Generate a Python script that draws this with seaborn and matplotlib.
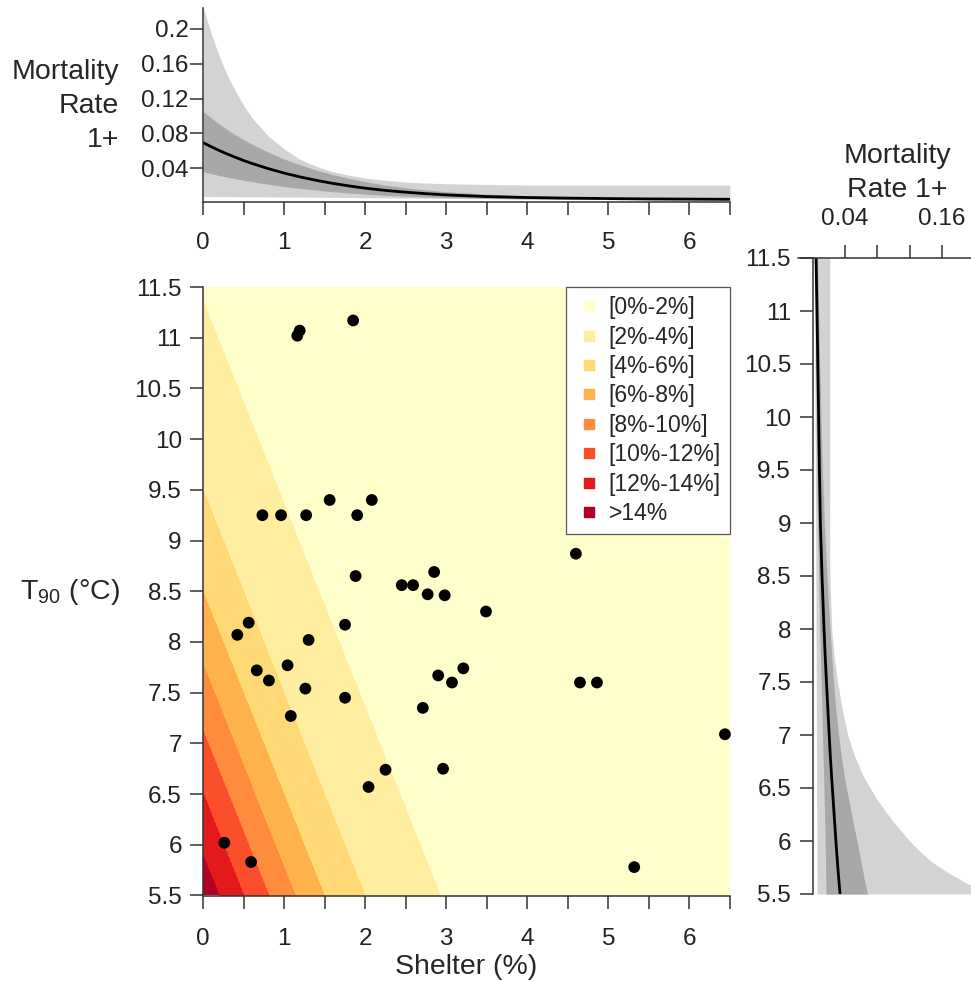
import numpy as np
import pandas as pd
import seaborn as sns
import matplotlib.pyplot as plt
from matplotlib.lines import Line2D

# predicted 1+ mortality (%) on a coarse shelter x T90 grid
grid_shelter = [0.0, 0.5, 1.0, 1.5, 2.0, 2.5, 3.0, 3.5, 4.0, 5.0, 6.5]
grid_t90 = [5.5, 6.5, 7.5, 8.5, 9.5, 10.5, 11.5]
grid_mort = [
    [15.3, 12.0, 8.75, 5.96, 3.98, 2.88, 1.85, 1.30, 0.95, 0.50, 0.17],
    [12.0, 8.75, 5.96, 3.98, 2.88, 1.85, 1.30, 0.95, 0.70, 0.36, 0.12],
    [8.75, 5.96, 3.98, 2.88, 1.85, 1.30, 0.95, 0.70, 0.50, 0.25, 0.09],
    [5.96, 3.98, 2.88, 1.85, 1.30, 0.95, 0.70, 0.50, 0.36, 0.17, 0.065],
    [3.98, 2.88, 1.85, 1.30, 0.95, 0.70, 0.50, 0.36, 0.25, 0.12, 0.045],
    [2.88, 1.85, 1.30, 0.95, 0.70, 0.50, 0.36, 0.25, 0.17, 0.09, 0.032],
    [1.85, 1.30, 0.95, 0.70, 0.50, 0.36, 0.25, 0.17, 0.12, 0.065, 0.022],
]
levels = [0, 2, 4, 6, 8, 10, 12, 14, 100]
level_labels = ["[0%-2%]", "[2%-4%]", "[4%-6%]", "[6%-8%]", "[8%-10%]",
                "[10%-12%]", "[12%-14%]", ">14%"]
level_colors = ["#FFFFCC", "#FFEDA0", "#FED976", "#FEB24C", "#FD8D3C",
                "#FC4E2A", "#E31A1C", "#B10026"]

# observed sites
site_shelter = [1.19, 1.16, 1.85, 1.56, 2.08, 0.73, 0.96, 1.27, 1.90, 1.88,
                2.85, 2.45, 2.59, 2.77, 2.98, 3.49, 0.56, 0.42, 1.75, 1.30,
                0.66, 1.04, 0.81, 1.26, 1.75, 1.08, 2.90, 3.21, 3.07, 2.71,
                2.25, 2.96, 2.04, 4.60, 4.65, 4.86, 6.44, 5.32, 0.26, 0.59]
site_t90 = [11.07, 11.02, 11.17, 9.40, 9.40, 9.25, 9.25, 9.25, 9.25, 8.65,
            8.69, 8.56, 8.56, 8.47, 8.46, 8.30, 8.19, 8.07, 8.17, 8.02,
            7.72, 7.77, 7.62, 7.54, 7.45, 7.27, 7.67, 7.74, 7.60, 7.35,
            6.74, 6.75, 6.57, 8.87, 7.60, 7.60, 7.09, 5.78, 6.02, 5.83]

# marginal effect of shelter (top panel)
top_shelter = [0, 0.1, 0.2, 0.3, 0.4, 0.5, 0.6, 0.8, 1.0, 1.2, 1.4, 1.6, 1.8,
               2.0, 2.25, 2.5, 2.75, 3.0, 3.5, 4.0, 4.5, 5.0, 5.5, 6.0, 6.5]
top_mean = [0.0693, 0.0646, 0.0602, 0.0562, 0.0524, 0.0488, 0.0455, 0.0396,
            0.0344, 0.0299, 0.0260, 0.0226, 0.0197, 0.0171, 0.0145, 0.0125,
            0.0108, 0.0094, 0.0075, 0.0064, 0.0057, 0.0052, 0.0048, 0.0046, 0.0044]
top_hi95 = [0.224, 0.194, 0.168, 0.146, 0.128, 0.112, 0.098, 0.077, 0.062,
            0.050, 0.042, 0.036, 0.032, 0.0288, 0.0261, 0.0242, 0.023, 0.0222,
            0.0213, 0.0208, 0.0206, 0.0205, 0.0205, 0.0205, 0.0205]
top_lo95 = [0.0075, 0.0075, 0.0074, 0.0074, 0.0073, 0.0073, 0.0072, 0.0071,
            0.0070, 0.0069, 0.0067, 0.0066, 0.0064, 0.0062, 0.0060, 0.0058,
            0.0056, 0.0054, 0.0050, 0.0047, 0.0044, 0.0041, 0.0038, 0.0036, 0.0034]
top_hi50 = [0.105, 0.0975, 0.0905, 0.0842, 0.0782, 0.0727, 0.0676, 0.0585,
            0.0505, 0.0437, 0.0378, 0.0327, 0.0284, 0.0246, 0.0206, 0.0176,
            0.0151, 0.0131, 0.0103, 0.0085, 0.0073, 0.0065, 0.0060, 0.0057, 0.0054]
top_lo50 = [0.036, 0.0337, 0.0316, 0.0297, 0.0279, 0.0262, 0.0246, 0.0216,
            0.0190, 0.0168, 0.0148, 0.0131, 0.0116, 0.0103, 0.0089, 0.0079,
            0.0071, 0.0064, 0.0055, 0.0048, 0.0044, 0.0041, 0.0038, 0.0036, 0.0035]

# marginal effect of T90 (right panel)
side_t90 = [5.5, 5.6, 5.7, 5.8, 5.9, 6.0, 6.2, 6.4, 6.6, 6.8, 7.0, 7.25, 7.5,
            7.75, 8.0, 8.5, 9.0, 9.5, 10.0, 10.5, 11.0, 11.5]
side_mean = [0.0340, 0.0329, 0.0318, 0.0308, 0.0298, 0.0289, 0.0271, 0.0254,
             0.0236, 0.0220, 0.0206, 0.0189, 0.0172, 0.0156, 0.0142, 0.0117,
             0.0097, 0.0085, 0.0075, 0.0065, 0.0055, 0.0043]
side_hi95 = [0.218, 0.191, 0.168, 0.148, 0.133, 0.120, 0.098, 0.079, 0.0635,
             0.052, 0.0435, 0.0365, 0.031, 0.0265, 0.0237, 0.0214, 0.0212,
             0.0212, 0.0212, 0.0212, 0.0212, 0.0212]
side_lo95 = [0.0055, 0.0055, 0.0054, 0.0054, 0.0053, 0.0053, 0.0052, 0.0051,
             0.0050, 0.0049, 0.0048, 0.0047, 0.0046, 0.0045, 0.0044, 0.0041,
             0.0038, 0.0035, 0.0032, 0.0029, 0.0026, 0.0023]
side_hi50 = [0.068, 0.065, 0.0625, 0.060, 0.0575, 0.055, 0.0495, 0.0445,
             0.0395, 0.0355, 0.0322, 0.0287, 0.026, 0.0237, 0.0215, 0.0178,
             0.0146, 0.0122, 0.0104, 0.0089, 0.0075, 0.0062]
side_lo50 = [0.0166, 0.0164, 0.0162, 0.016, 0.0158, 0.0155, 0.015, 0.0144,
             0.0137, 0.013, 0.0123, 0.0115, 0.0106, 0.0097, 0.0089, 0.0074,
             0.0062, 0.0053, 0.0046, 0.004, 0.0034, 0.0029]

LIGHT = "#D3D3D3"
DARK = "#A8A8A8"
AXCOL = "#333333"
TICK_FS = 17.5
LAB_FS = 20.5

sns.set_theme(style="ticks")
plt.rcParams["font.family"] = ["Liberation Sans", "DejaVu Sans"]
plt.rcParams["mathtext.fontset"] = "custom"
plt.rcParams["mathtext.rm"] = "Liberation Sans"
plt.rcParams["axes.edgecolor"] = AXCOL
plt.rcParams["axes.linewidth"] = 1.1

W, H = 971, 981
fig = plt.figure(figsize=(W / 100, H / 100), dpi=100)


def px_axes(left, top, right, bottom):
    return fig.add_axes([left / W, 1 - bottom / H, (right - left) / W, (bottom - top) / H])


def style_ticks(ax):
    ax.tick_params(direction="out", length=9.5, width=1.1, color=AXCOL,
                   labelsize=TICK_FS, labelcolor="#222222")


x_ticks = np.arange(0, 6.51, 0.5)
x_labels = [f"{v:g}" if v == int(v) else "" for v in x_ticks]

# ---- main contour panel ----
ax = px_axes(203.3, 287, 729.8, 895.5)
ax.contourf(grid_shelter, grid_t90, grid_mort, levels=levels, colors=level_colors)
sns.scatterplot(x=site_shelter, y=site_t90, color="black", s=72, edgecolor="none",
                ax=ax, clip_on=False, zorder=5, legend=False)
ax.set_xlim(0, 6.5)
ax.set_ylim(5.5, 11.5)
sns.despine(ax=ax)
style_ticks(ax)
ax.set_xticks(x_ticks, x_labels)
y_ticks = np.arange(5.5, 11.51, 0.5)
ax.set_yticks(y_ticks, [f"{v:g}" for v in y_ticks])
ax.tick_params(axis="x", pad=14)
ax.tick_params(axis="y", pad=6)
ax.set_xlabel("Shelter (%)", fontsize=LAB_FS, labelpad=3)
ax.set_ylabel("")

handles = [Line2D([], [], marker="s", ls="", color=c, markersize=7) for c in level_colors]
leg = ax.legend(handles, level_labels, loc="upper right", bbox_to_anchor=(1, 1),
                borderaxespad=0, frameon=True, fancybox=False, framealpha=1,
                facecolor="white", edgecolor="#555555", fontsize=16.5,
                handlelength=1.2, handletextpad=0.25, labelspacing=0.28,
                borderpad=0.4)
leg.get_frame().set_linewidth(0.9)

fig.text(20 / W, 1 - 592 / H, r"T$_{\mathrm{90}}$ (°C)", fontsize=LAB_FS,
         ha="left", va="center")

# ---- top panel: shelter ----
ax_top = px_axes(203.3, 8.3, 729.8, 201.7)
ax_top.fill_between(top_shelter, top_lo95, top_hi95, color=LIGHT, lw=0)
ax_top.fill_between(top_shelter, top_lo50, top_hi50, color=DARK, lw=0)
top_df = pd.DataFrame({"shelter": top_shelter, "mean": top_mean})
sns.lineplot(data=top_df, x="shelter", y="mean", color="black", lw=2, ax=ax_top)
ax_top.set_xlim(0, 6.5)
ax_top.set_ylim(0.0016, 0.2236)
sns.despine(ax=ax_top)
style_ticks(ax_top)
ax_top.set_xticks(x_ticks, x_labels)
ax_top.set_yticks([0.04, 0.08, 0.12, 0.16, 0.2], ["0.04", "0.08", "0.12", "0.16", "0.2"])
ax_top.tick_params(axis="x", pad=12)
ax_top.tick_params(axis="y", pad=1)
ax_top.set_xlabel("")
ax_top.set_ylabel("")
fig.text(119 / W, 1 - 106 / H, "Mortality\nRate\n1+", fontsize=LAB_FS,
         ha="right", va="center", multialignment="right", linespacing=1.38)

# ---- right panel: T90 ----
ax_r = px_axes(798, 258, 971, 894)
ax_r.fill_betweenx(side_t90, side_lo95, side_hi95, color=LIGHT, lw=0)
ax_r.fill_betweenx(side_t90, side_lo50, side_hi50, color=DARK, lw=0)
side_df = pd.DataFrame({"t90": side_t90, "mean": side_mean})
sns.lineplot(data=side_df, x="mean", y="t90", orient="y", color="black", lw=2, ax=ax_r)
ax_r.set_xlim(-0.018, 0.196)
ax_r.set_ylim(5.5, 11.5)
for side in ["bottom", "right"]:
    ax_r.spines[side].set_visible(False)
ax_r.spines["left"].set_position(("data", 0))
style_ticks(ax_r)
ax_r.xaxis.tick_top()
ax_r.set_xticks([0.04, 0.08, 0.12, 0.16], ["0.04", "", "", "0.16"])
ax_r.set_yticks(y_ticks, [f"{v:g}" for v in y_ticks])
ax_r.tick_params(axis="x", pad=11)
ax_r.tick_params(axis="y", pad=6)
ax_r.set_xlabel("")
ax_r.set_ylabel("")
fig.text(897 / W, 1 - 173 / H, "Mortality\nRate 1+", fontsize=LAB_FS,
         ha="center", va="center", linespacing=1.38)

fig.savefig("out.png", dpi=100)
